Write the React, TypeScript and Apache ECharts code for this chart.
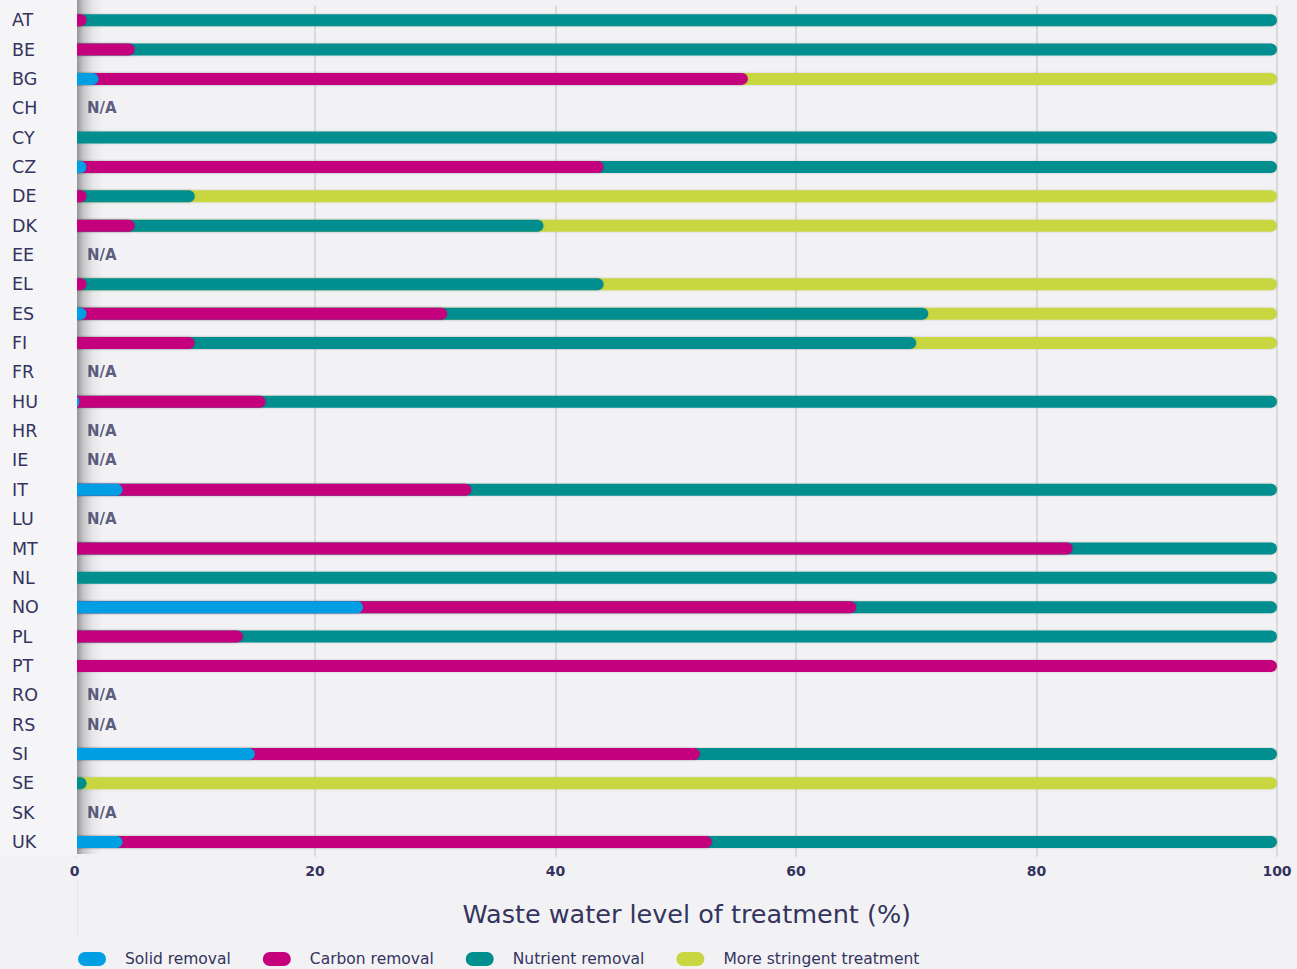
import React, { useEffect, useRef } from "react";
import * as echarts from "echarts";

const categories = ["AT","BE","BG","CH","CY","CZ","DE","DK","EE","EL","ES","FI","FR","HU","HR","IE","IT","LU","MT","NL","NO","PL","PT","RO","RS","SI","SE","SK","UK"];
// null = N/A
const solidRemoval =     [0, 0, 2, null, 0, 1, 0, 0, null, 0, 1, 0, null, 0.4, null, null, 4, null, 0, 0, 24, 0, 0, null, null, 15, 0, null, 4];
const carbonRemoval =    [1, 5, 54, null, 0, 43, 1, 5, null, 1, 30, 10, null, 15.5, null, null, 29, null, 83, 0, 41, 14, 100, null, null, 37, 0, null, 49];
const nutrientRemoval =  [99, 95, 0, null, 100, 56, 9, 34, null, 43, 40, 60, null, 84.1, null, null, 67, null, 17, 100, 35, 86, 0, null, null, 48, 1, null, 47];
const moreStringent =    [0, 0, 44, null, 0, 0, 90, 61, null, 56, 29, 30, null, 0, null, null, 0, null, 0, 0, 0, 0, 0, null, null, 0, 99, null, 0];
const xTicks = [0, 20, 40, 60, 80, 100];

const seriesNames = ["Solid removal", "Carbon removal", "Nutrient removal", "More stringent treatment"];
const seriesColors = ["#009ee2", "#c5007d", "#008e8f", "#c8d641"];
const naLabel = "N/A";

const TEXT = "#34345e";
const FONT = "DejaVu Sans";

export default function App() {
  const ref = useRef<HTMLDivElement>(null);
  useEffect(() => {
    document.body.style.margin = "0";
    if (!ref.current) return;
    const chart = echarts.init(ref.current, undefined, { renderer: "svg" });
    const segs = [solidRemoval, carbonRemoval, nutrientRemoval, moreStringent];
    // cumulative ends so each segment is drawn from 0 with a rounded right end, later layers beneath
    const cum = segs.map((_, si) =>
      categories.map((_, ci) => {
        if (segs[si][ci] == null || !segs[si][ci]) return "-";
        let s = 0;
        for (let k = 0; k <= si; k++) s += (segs[k][ci] as number) || 0;
        return s;
      })
    );
    const naData = categories.map((c, ci) => (solidRemoval[ci] == null ? [0, c] : null)).filter(Boolean);

    const barSeries = seriesNames.map((name, si) => ({
      name,
      type: "bar",
      data: cum[si],
      barWidth: 12,
      barGap: "-100%",
      z: 9 - si,
      itemStyle: {
        color: seriesColors[si],
        borderRadius: [0, 6, 6, 0],
        shadowBlur: 2,
        shadowColor: "rgba(0,0,0,0.18)",
      },
    }));

    chart.setOption({
      animation: false,
      backgroundColor: "#f2f2f5",
      textStyle: { fontFamily: FONT, color: TEXT },
      grid: { left: 74.5, right: 20, top: 5.5, height: 851.2, containLabel: false },
      xAxis: {
        type: "value",
        min: 0,
        max: 100,
        interval: 20,
        axisLine: { show: false },
        axisTick: { show: false },
        splitLine: { show: true, lineStyle: { color: "#dadada", width: 2 } },
        axisLabel: {
          margin: 7,
          fontSize: 14,
          fontWeight: "bold",
          color: TEXT,
          fontFamily: FONT,
          formatter: (v: number) => (xTicks.includes(v) ? String(v) : ""),
        },
        name: "Waste water level of treatment (%)",
        nameLocation: "middle",
        nameGap: 44,
        nameTextStyle: { fontSize: 25.5, color: TEXT, fontFamily: FONT, padding: [0, 0, 0, 22] },
      },
      yAxis: {
        type: "category",
        data: categories,
        inverse: true,
        z: 30,
        axisLine: { show: false },
        axisTick: { show: false },
        axisLabel: { align: "left", margin: 62.5, fontSize: 17.5, color: TEXT, fontFamily: FONT },
      },
      legend: {
        data: seriesNames.map((n) => ({ name: n, icon: "path://M7,0 L21,0 A7,7 0 0 1 21,14 L7,14 A7,7 0 0 1 7,0 Z" })),
        left: 73,
        top: 946,
        itemWidth: 28,
        itemHeight: 14,
        itemGap: 32,
        textStyle: { fontSize: 15.5, color: TEXT, fontFamily: FONT, padding: [0, 0, 0, 14] },
      },
      graphic: [
        {
          type: "rect",
          z: 20,
          shape: { x: 0, y: 0, width: 77, height: 856 },
          style: { fill: "#f5f5f8" },
        },
        {
          type: "rect",
          z: 3,
          shape: { x: 77, y: 0, width: 26, height: 854 },
          style: {
            fill: new echarts.graphic.LinearGradient(0, 0, 1, 0, [
              { offset: 0, color: "rgba(0,0,0,0.38)" },
              { offset: 0.25, color: "rgba(0,0,0,0.18)" },
              { offset: 0.6, color: "rgba(0,0,0,0.05)" },
              { offset: 1, color: "rgba(0,0,0,0)" },
            ]),
          },
        },
        {
          type: "line",
          z: 21,
          shape: { x1: 77.5, y1: 878, x2: 77.5, y2: 935 },
          style: { stroke: "rgba(0,0,0,0.05)", lineWidth: 1 },
        },
      ],
      series: [
        ...barSeries,
        {
          name: "na",
          type: "scatter",
          data: naData,
          symbolSize: 1,
          z: 25,
          itemStyle: { color: "rgba(0,0,0,0)" },
          label: {
            show: true,
            position: "right",
            distance: 12,
            formatter: () => naLabel,
            fontSize: 15,
            fontWeight: "bold",
            color: TEXT,
            fontFamily: FONT,
          },
        },
      ],
    });
    return () => chart.dispose();
  }, []);
  return <div ref={ref} style={{ width: 1297, height: 969, position: "absolute", left: 0, top: 0 }} />;
}
